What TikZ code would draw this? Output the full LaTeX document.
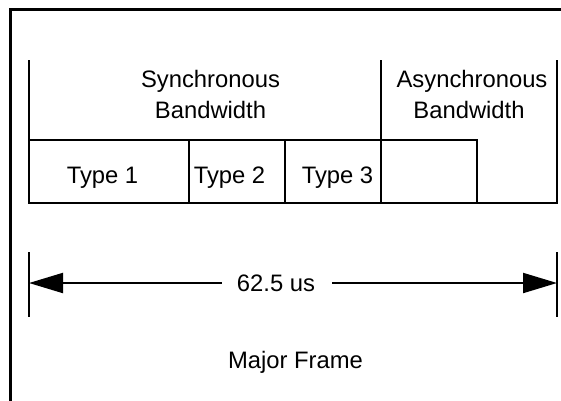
\documentclass[tikz,border=0pt]{standalone}
\usepackage{fontspec}
\setmainfont{Liberation Sans}
\usetikzlibrary{arrows.meta}
\tikzset{
  lbl/.style={font=\fontsize{23.8}{31}\selectfont, inner sep=0pt, anchor=base},
  tline/.style={line width=2pt, line cap=rect},
  frameline/.style={line width=3pt},
  dimarrow/.style={line width=2pt, -{Triangle[length=34pt,width=20pt]}},
}
\begin{document}
\begin{tikzpicture}[x=1pt,y=-1pt]
\useasboundingbox (0,0) rectangle (561,400);
% outer frame (cropped)
\draw[frameline] (10,402) -- (10,9) -- (563,9);
% table
\coordinate (tl) at (29,61);
\draw[tline] (29,61) -- (29,203) -- (557,203) -- (557,61);
\draw[tline] (29,140) -- (477,140) -- (477,203);
\draw[tline] (189,140) -- (189,203);
\draw[tline] (285,140) -- (285,203);
\draw[tline] (381,61) -- (381,203);
% texts
\node[lbl] (sync1) at (210.5,87) {Synchronous};
\node[lbl] (sync2) at (210.5,118) {Bandwidth};
\node[lbl] (async1) at (472,87) {Asynchronous};
\node[lbl] (async2) at (469,118) {Bandwidth};
\node[lbl] (t1) at (102.5,183) {Type 1};
\node[lbl] (t2) at (229.5,183) {Type 2};
\node[lbl] (t3) at (337.5,183) {Type 3};
% dimension
\coordinate (lt) at (29,283);
\coordinate (rt) at (557,283);
\draw[tline, line cap=butt] (29,252) -- (29,317);
\draw[tline, line cap=butt] (557,252) -- (557,317);
\node[font=\fontsize{23.8}{31}\selectfont, inner sep=0pt] (dim) at (276,283) {\vphantom{0}62.5 us};
\draw[dimarrow] ([xshift=-15pt]dim.west) -- (lt);
\draw[dimarrow] ([xshift=17pt]dim.east) -- (rt);
\node[lbl] (major) at (295.5,368) {Major Frame};
\end{tikzpicture}
\end{document}
